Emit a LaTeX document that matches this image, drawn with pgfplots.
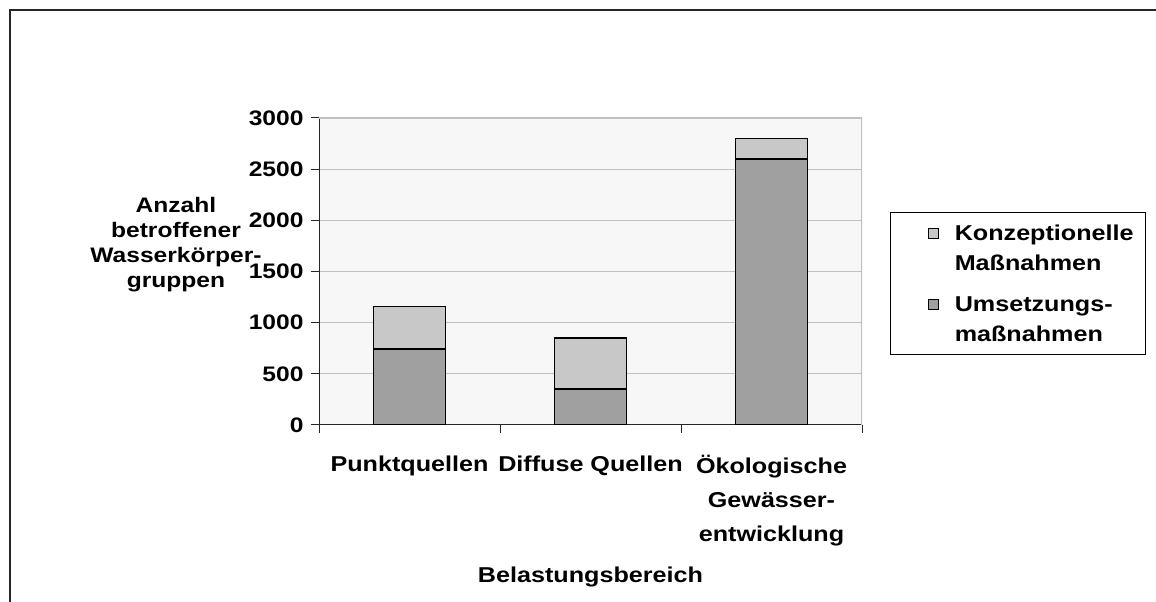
\documentclass[border=0pt]{standalone}
\usepackage{fontspec}
\setmainfont{Liberation Sans}[FakeStretch=1.17]
\usepackage{pgfplots}
\pgfplotsset{compat=1.18}
\definecolor{darkbar}{HTML}{A0A0A0}
\definecolor{lightbar}{HTML}{C8C8C8}
\definecolor{plotbg}{HTML}{F7F7F7}
\definecolor{gridc}{HTML}{C0C0C0}
\begin{document}
\begin{tikzpicture}[x=1pt,y=1pt]
\path[use as bounding box] (0,0) rectangle (1156,602);
\draw[line width=1.6pt, black!85] (10,0) -- (10,592) -- (1156,592);
\begin{axis}[
  at={(319pt,177pt)}, anchor=south west,
  scale only axis, width=543pt, height=307pt,
  ybar stacked, bar width=72pt,
  xmin=-0.5, xmax=2.5, ymin=0, ymax=3000,
  axis x line*=bottom, axis y line*=left,
  axis line style={line width=1pt, black!85},
  axis background/.style={fill=plotbg},
  ytick={0,500,...,3000},
  xtick={-0.5,0.5,1.5,2.5},
  x tick label as interval,
  xticklabels={Punktquellen, Diffuse Quellen, {Ökologische\\Gewässer-\\entwicklung}},
  tick align=outside,
  major tick length=8pt,
  tick style={line width=1pt, black!85},
  ymajorgrids, grid style={gridc, line width=1pt},
  /pgf/number format/assume math mode=true,
  /pgf/number format/1000 sep={},
  yticklabel style={font=\bfseries\fontsize{21}{22}\selectfont, anchor=east, xshift=-4pt},
  xticklabel style={font=\bfseries\fontsize{21.5}{34}\selectfont, align=center, anchor=north, yshift=-19pt},
  xlabel={Belastungsbereich},
  xlabel style={font=\bfseries\fontsize{21.5}{24}\selectfont, at={(rel axis cs:0.5,-0.4935)}, anchor=center},
  ylabel={Anzahl\\betroffener\\Wasserkörper-\\gruppen},
  ylabel style={font=\bfseries\fontsize{21}{25}\selectfont, align=center, rotate=-90, at={(rel axis cs:-0.2634,0.5880)}, anchor=center},
  reverse legend,
  legend style={at={(rel axis cs:1.0516,0.6938)}, anchor=north west, draw=black, line width=1pt, fill=white,
    font=\bfseries\fontsize{21.5}{30}\selectfont, cells={align=left, anchor=west},
    inner xsep=0pt, inner ysep=10pt, row sep=21pt, column sep=14pt},
  legend image code/.code={\path (0pt,0pt); \draw[#1, draw=black, line width=0.9pt] (37pt,10pt) rectangle (47pt,20pt);},
]
\addplot[fill=darkbar, draw=black, line width=1.6pt] coordinates {(0,740) (1,350) (2,2600)};
\addplot[fill=lightbar, draw=black, line width=1.2pt] coordinates {(0,420) (1,500) (2,200)};
\legend{Umsetzungs-\\maßnahmen, Konzeptionelle\hspace*{10pt}\\Maßnahmen}
\draw[gridc, line width=1.5pt] (rel axis cs:0,1) -- (rel axis cs:1,1) -- (rel axis cs:1,0);
\end{axis}
\end{tikzpicture}
\end{document}
